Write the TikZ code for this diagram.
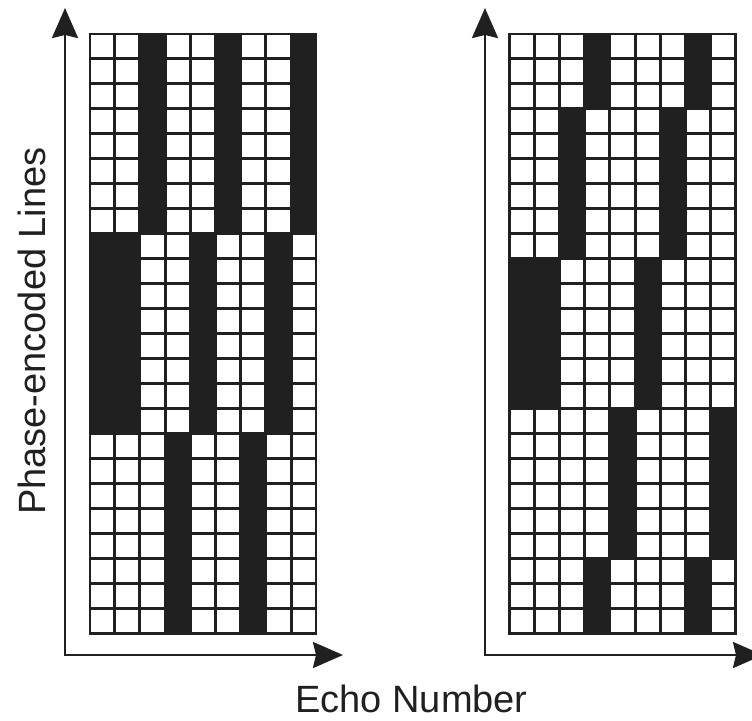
\documentclass[tikz,border=0pt]{standalone}
\usepackage{fontspec}
\setmainfont{Liberation Sans}
\usetikzlibrary{arrows.meta}
\definecolor{ink}{HTML}{202020}
\tikzset{
  axisline/.style={draw=ink, line width=2.6pt, arrows={Stealth[length=30pt,width=26pt,inset=3pt]-Stealth[length=30pt,width=26pt,inset=3pt]}},
  cellwhite/.style={fill=white},
  gridbg/.style={fill=ink},
  labeltext/.style={font=\fontsize{38}{40}\selectfont, text=ink, inner sep=0pt}
}
\begin{document}
\begin{tikzpicture}[x=1pt,y=-1pt]
\useasboundingbox (0,0) rectangle (752,720);
\clip (0,0) rectangle (752,720);
\def\cw{25.2}
\def\ch{25}
% axes
\coordinate (yt1) at (65,8);
\coordinate (xt1) at (343,655);
\coordinate (yt2) at (485,8);
\coordinate (xt2) at (763,655);
\draw[axisline] (yt1) |- (xt1);
\draw[axisline] (yt2) |- (xt2);
% left grid
\def\gx{89.5}
\def\gy{33.5}
\fill[gridbg] ({\gx-1},{\gy-1}) rectangle ({\gx+9*\cw+1},{\gy+24*\ch+1});
\foreach \rs/\re/\cols in {1/8/{1,2,4,5,7,8}, 9/16/{3,4,6,7,9}, 17/24/{1,2,3,5,6,8,9}}{
  \foreach \r in {\rs,...,\re}{
    \foreach \c in \cols{
      \fill[cellwhite] ({\gx+(\c-1)*\cw+1.5},{\gy+(\r-1)*\ch+1.5}) rectangle ++({\cw-3},{\ch-3});
    }
  }
}
% right grid
\def\hx{509}
\fill[gridbg] ({\hx-1},{\gy-1}) rectangle ({\hx+9*\cw+1},{\gy+24*\ch+1});
\foreach \rs/\re/\cols in {1/3/{1,2,3,5,6,7,9}, 4/9/{1,2,4,5,6,8,9}, 10/15/{3,4,5,7,8,9}, 16/21/{1,2,3,4,6,7,8}, 22/24/{1,2,3,5,6,7,9}}{
  \foreach \r in {\rs,...,\re}{
    \foreach \c in \cols{
      \fill[cellwhite] ({\hx+(\c-1)*\cw+1.5},{\gy+(\r-1)*\ch+1.5}) rectangle ++({\cw-3},{\ch-3});
    }
  }
}
% labels
\node[labeltext, anchor=base] (xlabel) at (411.5,712) {Echo Number};
\node[labeltext, anchor=base, rotate=90] (ylabel) at (45,331) {Phase-encoded Lines};
\end{tikzpicture}
\end{document}
